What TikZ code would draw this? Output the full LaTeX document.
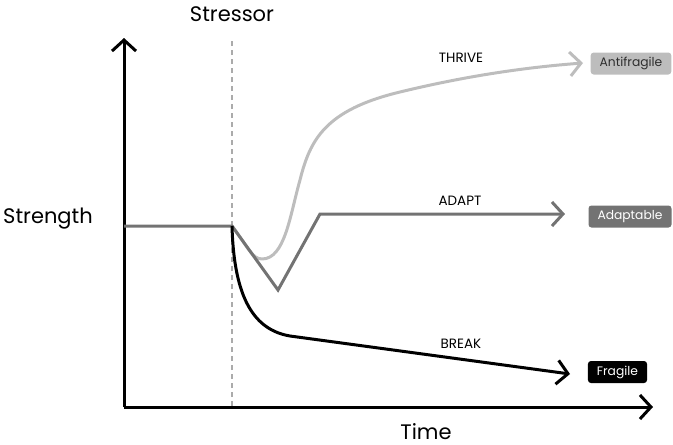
\documentclass[tikz,border=0pt]{standalone}
\usepackage{fontspec}
\setmainfont{Poppins}
\usetikzlibrary{arrows.meta}

\definecolor{thrivegray}{HTML}{BDBDBD}
\definecolor{adaptgray}{HTML}{737373}
\definecolor{labelink}{HTML}{2E2E2E}

\begin{document}
\begin{tikzpicture}[
    x=1pt, y=-1pt,
    >={Straight Barb[length=11pt, width=24pt]},
    % Styling for axes and curves
    axis/.style={black, line width=3pt, ->},
    stressline/.style={thrivegray!70!gray, line width=1.2pt, dash pattern=on 5pt off 4pt},
    thrive/.style={thrivegray, line width=3pt, line join=round},
    adapt/.style={adaptgray, line width=3pt, line join=miter},
    fragile/.style={black, line width=3pt, line join=round},
    % Styling for texts
    bigtext/.style={font=\fontsize{21}{21}\selectfont, text=black, inner sep=0pt},
    pathtext/.style={font=\fontsize{13.5}{13.5}\selectfont, text=black},
    outcome/.style={rectangle, rounded corners=3pt, minimum height=22pt, inner xsep=9pt, font=\fontsize{12.3}{12.3}\selectfont}
]
    \useasboundingbox (0,0) rectangle (673,445);

    % Axes
    \coordinate (O) at (124,407);
    \coordinate (Ytop) at (124,38);
    \coordinate (Xend) at (653,407);
    \draw[axis] (O) -- (Ytop);
    \draw[axis] (O) -- (Xend);

    % Stressor marker
    \coordinate (Sbot) at (232,406);
    \coordinate (Stop) at (232,38);
    \draw[stressline] (Sbot) -- (Stop);

    % Axis texts
    \node[bigtext, anchor=base] (stressor) at (232,21) {Stressor};
    \node[bigtext, anchor=base] (strength) at (48,223) {Strength};
    \node[bigtext, anchor=base] (time) at (426,439) {Time};

    % Starting level
    \coordinate (S0) at (124,226);
    \coordinate (S1) at (232,226);

    % Outcome boxes
    \node[outcome, fill=thrivegray, text=labelink] (antifragile) at (631,63.5) {Antifragile};
    \node[outcome, fill=adaptgray, text=white] (adaptable) at (630,216.5) {Adaptable};
    \node[outcome, fill=black, text=white] (fragile) at (617.5,372) {Fragile};

    % Response curves
    \draw[thrive, ->] (S1) .. controls (248,247) and (252,259) .. (262,259)
        .. controls (285,259) and (290,215) .. (300,180)
        .. controls (310,140) and (325,110) .. (400,92)
        .. controls (470,75) and (530,67) .. (583,63);
    \draw[adapt, ->] (S0) -- (S1) -- (278,290) -- (320,214) -- (565,214);
    \draw[fragile, ->] (S1) .. controls (234,300) and (255,330) .. (290,336) -- (570,374);

    % Curve labels
    \node[pathtext] (thrivelbl) at (461,58) {THRIVE};
    \node[pathtext] (adaptlbl) at (460,201) {ADAPT};
    \node[pathtext] (breaklbl) at (461,344) {BREAK};

\end{tikzpicture}
\end{document}
